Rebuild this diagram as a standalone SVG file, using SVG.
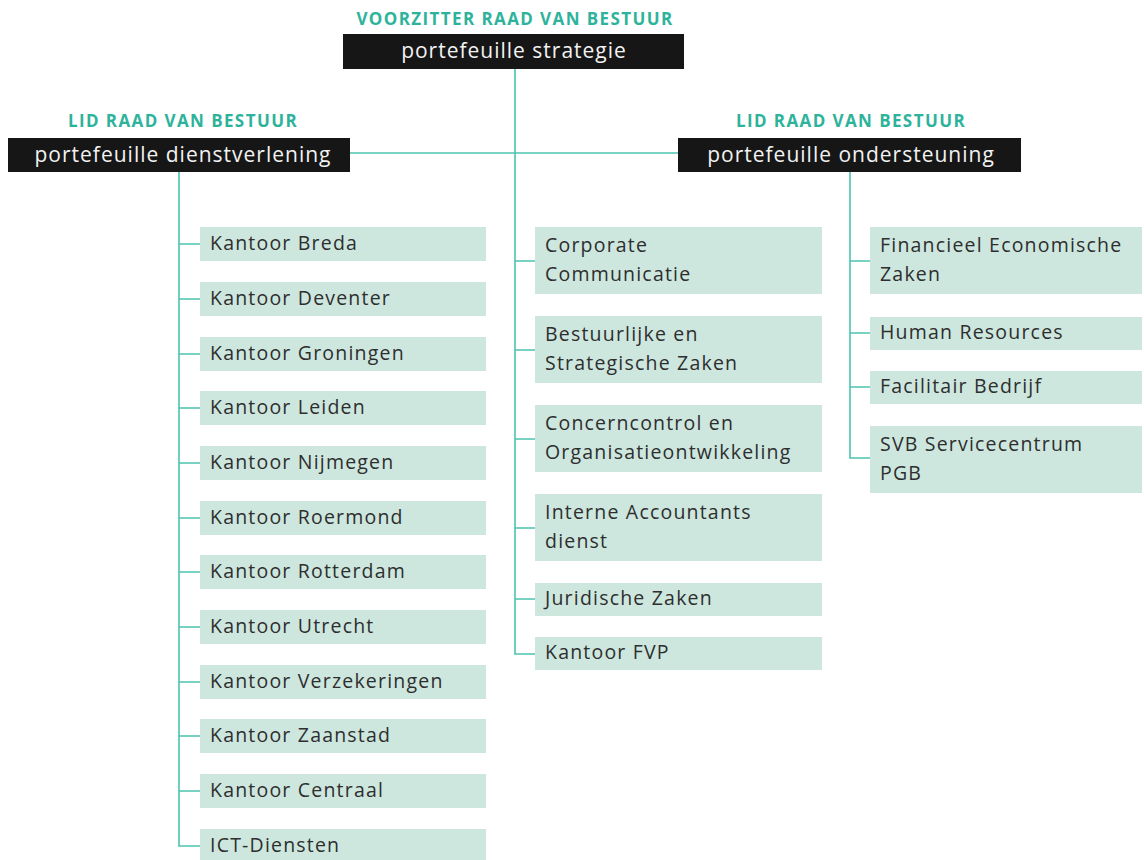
<svg xmlns="http://www.w3.org/2000/svg" width="1144" height="860" viewBox="0 0 1144 860">
<style>
.bg{fill:#ffffff}
.lbl{font-family:"Open Sans","Liberation Sans",sans-serif;font-weight:700;font-size:17px;letter-spacing:1.4px;fill:#2db39b;text-anchor:middle}
.hd{fill:#161616}
.hdt{font-family:"Open Sans","Liberation Sans",sans-serif;font-size:21px;letter-spacing:1px;fill:#f2f2f2;text-anchor:middle}
.bx{fill:#cde7de}
.bt{font-family:"Open Sans","Liberation Sans",sans-serif;font-size:19.5px;letter-spacing:1.2px;fill:#2e2e2e}
.cn{fill:none;stroke:#4cc4b0;stroke-width:1.6}
</style>
<rect class="bg" x="0" y="0" width="1144" height="860"/>
<g id="connectors">
<path class="cn" d="M515,69 V654 H535"/>
<path class="cn" d="M350,153 H678"/>
<path class="cn" d="M179,172 V846 H200"/>
<path class="cn" d="M179,244 H200 M179,299 H200 M179,354 H200 M179,408 H200 M179,463 H200 M179,518 H200 M179,572 H200 M179,627 H200 M179,682 H200 M179,736 H200 M179,791 H200"/>
<path class="cn" d="M515,261 H535 M515,350 H535 M515,439 H535 M515,528 H535 M515,599 H535"/>
<path class="cn" d="M850,172 V458 H870 M850,261 H870 M850,333 H870 M850,387 H870"/>
</g>
<g id="top">
<text class="lbl" x="515" y="25">VOORZITTER RAAD VAN BESTUUR</text>
<rect class="hd" x="343" y="34" width="341" height="35"/>
<text class="hdt" x="514" y="58">portefeuille strategie</text>
</g>
<g id="left-head">
<text class="lbl" x="183" y="127">LID RAAD VAN BESTUUR</text>
<rect class="hd" x="8" y="138" width="342" height="34"/>
<text class="hdt" x="183" y="162">portefeuille dienstverlening</text>
</g>
<g id="right-head">
<text class="lbl" x="851" y="127">LID RAAD VAN BESTUUR</text>
<rect class="hd" x="678" y="138" width="343" height="34"/>
<text class="hdt" x="851" y="162">portefeuille ondersteuning</text>
</g>
<g id="n-breda"><rect class="bx" x="200" y="227" width="286" height="34"/><text class="bt" x="210" y="250">Kantoor Breda</text></g>
<g id="n-deventer"><rect class="bx" x="200" y="282" width="286" height="34"/><text class="bt" x="210" y="305">Kantoor Deventer</text></g>
<g id="n-groningen"><rect class="bx" x="200" y="337" width="286" height="34"/><text class="bt" x="210" y="360">Kantoor Groningen</text></g>
<g id="n-leiden"><rect class="bx" x="200" y="391" width="286" height="34"/><text class="bt" x="210" y="414">Kantoor Leiden</text></g>
<g id="n-nijmegen"><rect class="bx" x="200" y="446" width="286" height="34"/><text class="bt" x="210" y="469">Kantoor Nijmegen</text></g>
<g id="n-roermond"><rect class="bx" x="200" y="501" width="286" height="34"/><text class="bt" x="210" y="524">Kantoor Roermond</text></g>
<g id="n-rotterdam"><rect class="bx" x="200" y="555" width="286" height="34"/><text class="bt" x="210" y="578">Kantoor Rotterdam</text></g>
<g id="n-utrecht"><rect class="bx" x="200" y="610" width="286" height="34"/><text class="bt" x="210" y="633">Kantoor Utrecht</text></g>
<g id="n-verzekeringen"><rect class="bx" x="200" y="665" width="286" height="34"/><text class="bt" x="210" y="688">Kantoor Verzekeringen</text></g>
<g id="n-zaanstad"><rect class="bx" x="200" y="719" width="286" height="34"/><text class="bt" x="210" y="742">Kantoor Zaanstad</text></g>
<g id="n-centraal"><rect class="bx" x="200" y="774" width="286" height="34"/><text class="bt" x="210" y="797">Kantoor Centraal</text></g>
<g id="n-ict"><rect class="bx" x="200" y="829" width="286" height="34"/><text class="bt" x="210" y="852">ICT-Diensten</text></g>
<g id="n-corporate"><rect class="bx" x="535" y="227" width="287" height="67"/><text class="bt" x="545" y="252">Corporate</text><text class="bt" x="545" y="281">Communicatie</text></g>
<g id="n-bestuurlijke"><rect class="bx" x="535" y="316" width="287" height="67"/><text class="bt" x="545" y="341">Bestuurlijke en</text><text class="bt" x="545" y="370">Strategische Zaken</text></g>
<g id="n-concerncontrol"><rect class="bx" x="535" y="405" width="287" height="67"/><text class="bt" x="545" y="430">Concerncontrol en</text><text class="bt" x="545" y="459">Organisatieontwikkeling</text></g>
<g id="n-interne"><rect class="bx" x="535" y="494" width="287" height="67"/><text class="bt" x="545" y="519">Interne Accountants</text><text class="bt" x="545" y="548">dienst</text></g>
<g id="n-juridische"><rect class="bx" x="535" y="583" width="287" height="33"/><text class="bt" x="545" y="605">Juridische Zaken</text></g>
<g id="n-fvp"><rect class="bx" x="535" y="637" width="287" height="33"/><text class="bt" x="545" y="659">Kantoor FVP</text></g>
<g id="n-financieel"><rect class="bx" x="870" y="227" width="272" height="67"/><text class="bt" x="880" y="252">Financieel Economische</text><text class="bt" x="880" y="281">Zaken</text></g>
<g id="n-hr"><rect class="bx" x="870" y="317" width="272" height="33"/><text class="bt" x="880" y="339">Human Resources</text></g>
<g id="n-facilitair"><rect class="bx" x="870" y="371" width="272" height="33"/><text class="bt" x="880" y="393">Facilitair Bedrijf</text></g>
<g id="n-svb"><rect class="bx" x="870" y="426" width="272" height="67"/><text class="bt" x="880" y="451">SVB Servicecentrum</text><text class="bt" x="880" y="480">PGB</text></g>
</svg>
